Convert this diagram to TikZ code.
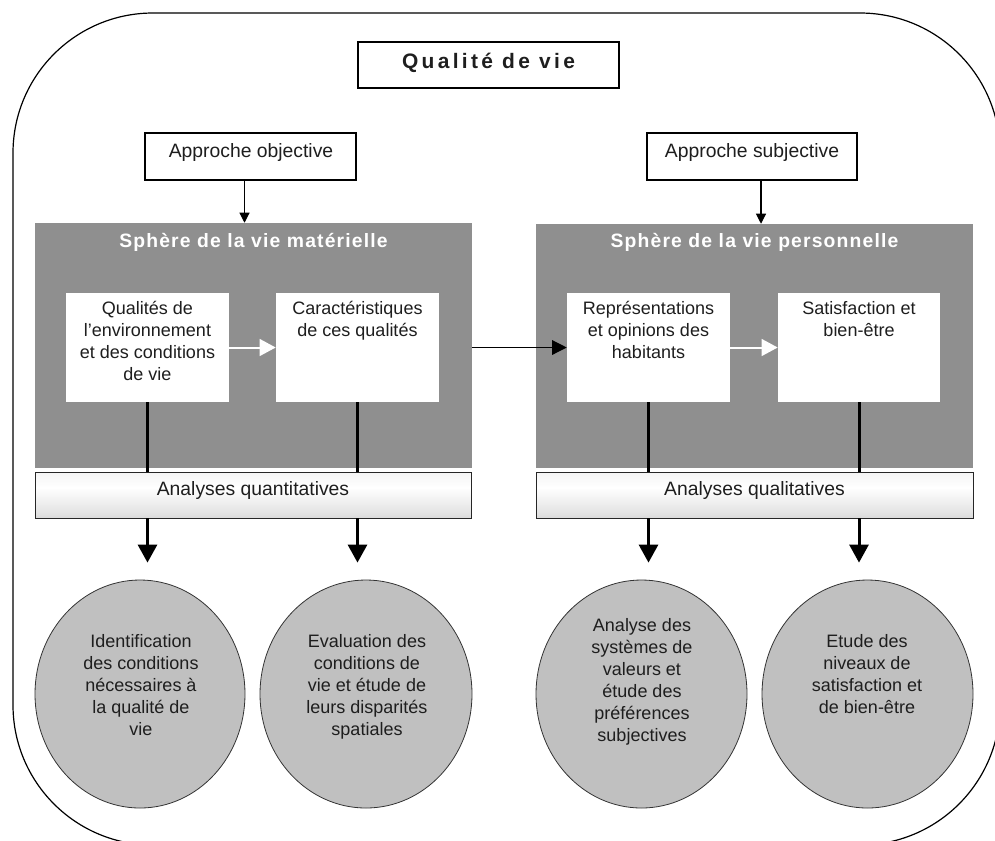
\documentclass[tikz,border=0pt]{standalone}
\usepackage{fontspec}
\setmainfont{Liberation Sans}
\newfontfamily\titlefont[LetterSpace=16]{Liberation Sans}
\newfontfamily\headfont[LetterSpace=6]{Liberation Sans}
\usetikzlibrary{arrows.meta,shapes.geometric,calc}

\definecolor{spheregray}{HTML}{8F8F8F}
\definecolor{bubblegray}{HTML}{C0C0C0}
\definecolor{barlow}{HTML}{B0B0B0}
\definecolor{barmid}{HTML}{E2E2E2}
\definecolor{bartop}{HTML}{CFCFCF}
\definecolor{inktext}{HTML}{1E1E1E}

% soft vertical gradient of the two analysis bars
\pgfdeclareverticalshading{barshade}{100bp}{%
  color(0bp)=(barlow); color(30bp)=(barmid); color(58bp)=(white);
  color(82bp)=(white!94!black); color(100bp)=(bartop)}

\newcommand{\bodyfont}{\fontsize{13.5}{16.5}\selectfont}
\newcommand{\labelfont}{\fontsize{14.5}{17}\selectfont}

\begin{document}
\begin{tikzpicture}[x=0.75pt,y=-0.75pt,
  frame/.style={draw=black, line width=0.9pt, rounded corners=105pt},
  plainbox/.style={draw=black, line width=0.8pt, fill=white, inner sep=0pt},
  sphere/.style={fill=spheregray, inner sep=0pt},
  inbox/.style={fill=white, inner sep=0pt},
  bar/.style={draw=black!85, line width=0.7pt, shading=barshade, inner sep=0pt},
  bubble/.style={ellipse, draw=black!80, line width=0.6pt, fill=bubblegray, inner sep=0pt},
  txt/.style={align=center, font=\bodyfont, text=inktext, inner sep=0pt},
  bigtxt/.style={align=center, font=\labelfont, text=inktext, inner sep=0pt},
  headtxt/.style={inner sep=0pt, text=white, font=\headfont\fontsize{14.5}{17}\selectfont\bfseries},
  link/.style={line width=2.25pt},
  downarrow/.style={link, -{Triangle[length=13.5pt,width=14.25pt]}, shorten >=12.75pt},
  thinarrow/.style={line width=0.9pt, -{Triangle[length=11pt,width=11pt]}},
  smallarrow/.style={line width=0.8pt, -{Triangle[length=7.5pt,width=7.5pt]}},
  whitearrow/.style={draw=white, line width=1.5pt, -{Triangle[length=12pt,width=12.5pt]}}
]
\useasboundingbox (0,0) rectangle (995,840);

% outer rounded frame, running past the right and bottom edges
\begin{scope}
  \clip (0,0) rectangle (995,840);
  \draw[frame] (13,13) rectangle (1000,845);
\end{scope}

% title
\node[plainbox, minimum width=195.75pt, minimum height=34.5pt] (title) at (488.5,65) {};
\node[inner sep=0pt, text=inktext, font=\titlefont\fontsize{15.7}{18}\selectfont\bfseries] (titletxt) at (488.5,63) {Qualité de vie};

% the two approaches
\node[plainbox, minimum width=158.25pt, minimum height=35.25pt] (objA) at (250.5,156.5) {};
\node[bigtxt] (objAtxt) at (251,152) {Approche objective};
\node[plainbox, minimum width=157.5pt, minimum height=35.25pt] (subA) at (752,156.5) {};
\node[bigtxt] (subAtxt) at (752,152) {Approche subjective};

% the two spheres
\node[sphere, minimum width=327.75pt, minimum height=183.75pt] (sphM) at (253.5,345.5) {};
\node[headtxt] (sphMtxt) at (253.5,242) {Sphère de la vie matérielle};
\node[sphere, minimum width=327.75pt, minimum height=183pt] (sphP) at (754.5,346) {};
\node[headtxt] (sphPtxt) at (754.5,242) {Sphère de la vie personnelle};

% white boxes inside the spheres
\node[inbox, minimum width=122.25pt, minimum height=81.75pt] (box1) at (147.5,347.5) {};
\node[inbox, minimum width=122.25pt, minimum height=81.75pt] (box2) at (357.5,347.5) {};
\node[inbox, minimum width=122.25pt, minimum height=81.75pt] (box3) at (648.5,347.5) {};
\node[inbox, minimum width=121.5pt, minimum height=81.75pt] (box4) at (859,347.5) {};
\node[txt, anchor=north] (box1txt) at (147.5,301) {Qualités de\\l’environnement\\et des conditions\\de vie};
\node[txt, anchor=north] (box2txt) at (357.5,301) {Caractéristiques\\de ces qualités};
\node[txt, anchor=north] (box3txt) at (648.5,301) {Représentations\\et opinions des\\habitants};
\node[txt, anchor=north] (box4txt) at (859,301) {Satisfaction et\\bien-être};

% analysis bars
\node[bar, minimum width=327pt, minimum height=34.5pt] (anaQ) at (253,495) {};
\node[bigtxt] (anaQtxt) at (253,490) {Analyses quantitatives};
\node[bar, minimum width=327.75pt, minimum height=34.5pt] (anaL) at (754.5,495) {};
\node[bigtxt] (anaLtxt) at (754.5,490) {Analyses qualitatives};

% results
\node[bubble, minimum width=157.5pt, minimum height=171pt] (c1) at (140,694) {};
\node[bubble, minimum width=159pt, minimum height=171pt] (c2) at (366,694) {};
\node[bubble, minimum width=158.25pt, minimum height=171pt] (c3) at (641.5,694) {};
\node[bubble, minimum width=158.25pt, minimum height=171pt] (c4) at (867.5,694) {};
\node[txt, anchor=north] (c1txt) at (141,634) {Identification\\des conditions\\nécessaires à\\la qualité de\\vie};
\node[txt, anchor=north] (c2txt) at (367,634) {Evaluation des\\conditions de\\vie et étude de\\leurs disparités\\spatiales};
\node[txt, anchor=north] (c3txt) at (642,618) {Analyse des\\systèmes de\\valeurs et\\étude des\\préférences\\subjectives};
\node[txt, anchor=north] (c4txt) at (867,634) {Etude des\\niveaux de\\satisfaction et\\de bien-être};

% connectors
\draw[smallarrow] ([xshift=-4.5pt]objA.south) -- ([xshift=-4.5pt]objA.south |- sphM.north);
\draw[smallarrow] ([xshift=6.75pt]subA.south) -- ([xshift=6.75pt]subA.south |- sphP.north);
\draw[whitearrow] (box1.east) -- (box2.west);
\draw[whitearrow] (box3.east) -- (box4.west);
\draw[thinarrow] (sphM.east |- box3.west) -- (box3.west);

\draw[link] (box1.south) -- (box1.south |- anaQ.north);
\draw[link] (box2.south) -- (box2.south |- anaQ.north);
\draw[link] (box3.south) -- (box3.south |- anaL.north);
\draw[link] (box4.south) -- (box4.south |- anaL.north);

\draw[downarrow] (box1.south |- anaQ.south) -- (box1.south |- c1.north);
\draw[downarrow] (box2.south |- anaQ.south) -- (box2.south |- c2.north);
\draw[downarrow] (box3.south |- anaL.south) -- (box3.south |- c3.north);
\draw[downarrow] (box4.south |- anaL.south) -- (box4.south |- c4.north);
\end{tikzpicture}
\end{document}
